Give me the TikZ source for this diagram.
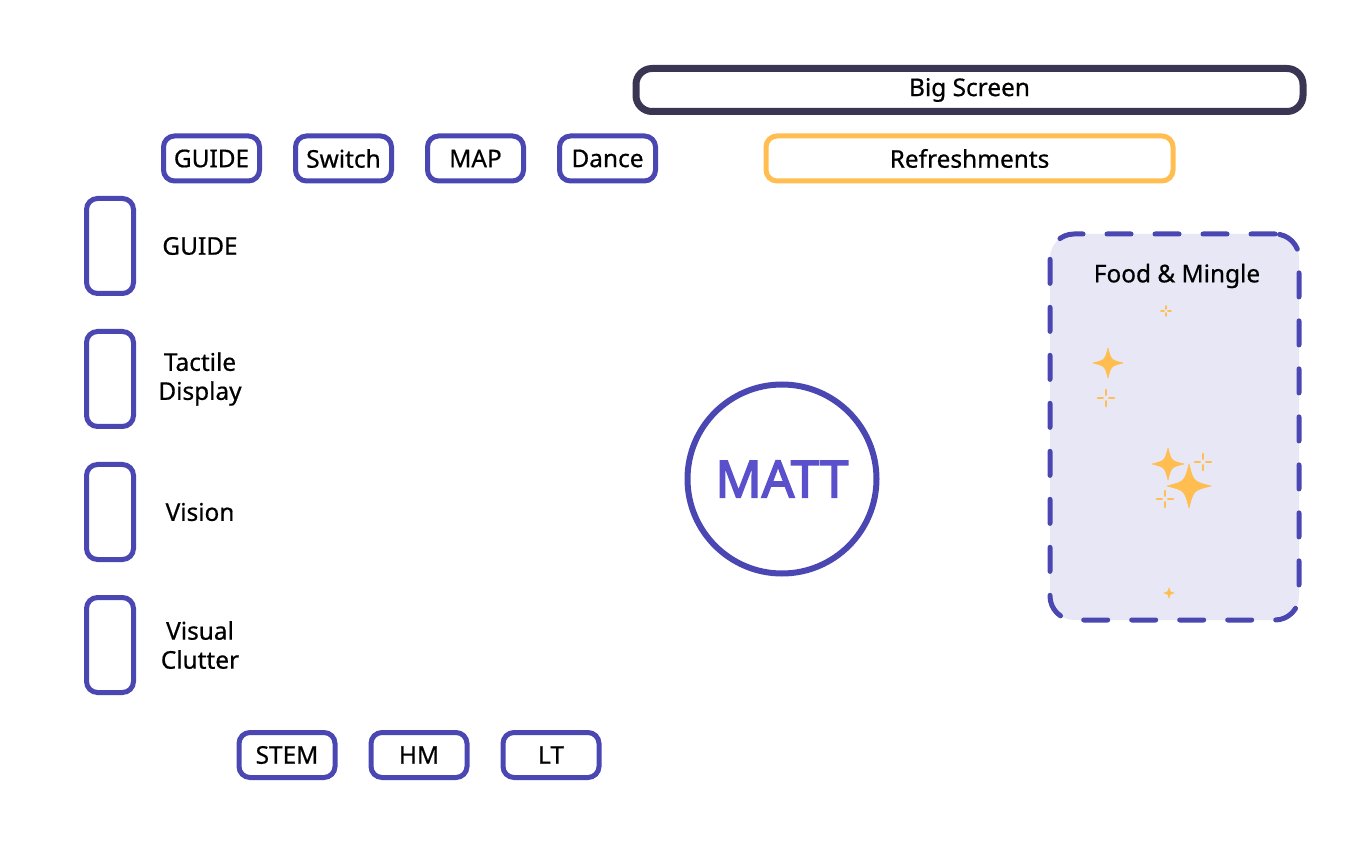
\documentclass[tikz,border=0pt]{standalone}
\usepackage{fontspec}
\setmainfont{Noto Sans}[FakeBold=0.6]
\newfontfamily\heavyfont{Noto Sans}[FakeBold=3]
\usepackage{tikz}
\usetikzlibrary{positioning,shapes}

\definecolor{plum}{HTML}{4A46B2}
\definecolor{mattblue}{HTML}{5A50CC}
\definecolor{screen}{HTML}{3A3553}
\definecolor{snack}{HTML}{FFBE4F}
\definecolor{lounge}{HTML}{E8E7F5}

\begin{document}
\begin{tikzpicture}[x=0.5pt,y=-0.5pt,
            every node/.style={font=\fontsize{12.2}{14.5}\selectfont\bfseries},
            station/.style={draw=plum,line width=2.5pt,rounded corners=5.5pt,minimum width=48pt,minimum height=22.5pt,inner sep=0pt},
            pillar/.style={station,minimum width=23.5pt,minimum height=47.5pt,node distance=66.5pt},
            lab/.style={align=center,node distance=45pt},
            spark/.pic={\fill[snack,draw=snack,line width=0.3pt,line join=round]
              (0,-10) .. controls (2,-2) .. (10,0) .. controls (2,2) .. (0,10)
              .. controls (-2,2) .. (-10,0) .. controls (-2,-2) .. (0,-10) -- cycle;},
            twinkle/.pic={\draw[snack,line cap=round]
              (0,-10) -- (0,-4) (0,4) -- (0,10) (-10,0) -- (-4,0) (4,0) -- (10,0);}
          ]
          \useasboundingbox (0,0) rectangle (1351,845);

          %top row
          \node[draw=screen,line width=3.5pt,rounded corners=8pt,minimum width=333.5pt,minimum height=21.5pt] (screen) at (969.5,90) {Big Screen};
          \node[station,draw=snack,minimum width=203.5pt] (food) at (969.5,158.5) {Refreshments};
          \node[station,node distance=66pt] (guide) at (211.5,158.5) {GUIDE};
          \node[station,node distance=66pt,right of = guide] (switch) {Switch};
          \node[station,node distance=66pt,right of = switch] (map) {MAP};
          \node[station,node distance=66pt,right of = map] (dance) {Dance};

          %side column
          \node[pillar] (p1) at (110,246) {};
          \node[pillar,below of = p1] (p2) {};
          \node[pillar,below of = p2] (p3) {};
          \node[pillar,below of = p3] (p4) {};
          \node[lab,right of = p1] {GUIDE};
          \node[lab,right of = p2] {Tactile\\Display};
          \node[lab,right of = p3] {Vision};
          \node[lab,right of = p4] {Visual\\Clutter};

          %bottom row
          \node[station,node distance=66pt] (stem) at (287,755) {STEM};
          \node[station,node distance=66pt,right of = stem] (hm) {HM};
          \node[station,node distance=66pt,right of = hm] (lt) {LT};

          %centre
          \node[circle,draw=plum,line width=3pt,minimum size=94.5pt,inner sep=0pt,
                text=mattblue,font=\fontsize{25.5}{28}\heavyfont] (matt) at (782,479) {MATT};

          %mingle area
          \node[draw=plum,fill=lounge,line width=2.5pt,rounded corners=12pt,line cap=round,
                dash pattern=on 12pt off 12pt,minimum width=124.5pt,minimum height=193pt] (mingle) at (1174.5,427) {};
          \node (minglelab) at (1177,276) {Food \& Mingle};

          \pic[scale=1.5] at (1108,363) {spark};
          \pic[scale=1.6] at (1168,464) {spark};
          \pic[scale=2.2] at (1189,486) {spark};
          \pic[scale=0.5] at (1169,593) {spark};
          \pic[scale=0.5,line width=0.9pt] at (1166,311) {twinkle};
          \pic[scale=0.8,line width=1.3pt] at (1106,398) {twinkle};
          \pic[scale=0.8,line width=1.3pt] at (1203,462) {twinkle};
          \pic[scale=0.8,line width=1.3pt] at (1165,499) {twinkle};
      \end{tikzpicture}
\end{document}
